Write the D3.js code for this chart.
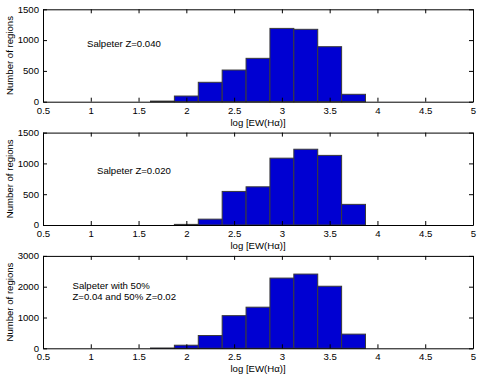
<!DOCTYPE html>
<html><head><meta charset="utf-8">
<script src="https://cdn.jsdelivr.net/npm/d3@7"></script>
<style>
html,body{margin:0;padding:0;background:#fff;}
svg{display:block;}
text{font-family:"Liberation Sans",Arial,Helvetica,sans-serif;}
</style></head>
<body><svg id="chart" width="480" height="377"></svg>
<script>
// ---- data ----
const binCenters = [1.75, 2.0, 2.25, 2.5, 2.75, 3.0, 3.25, 3.5, 3.75];
const binWidth = 0.25;
const countsZ040 = [10, 92, 315, 514, 704, 1190, 1175, 893, 120];
const countsZ020 = [0, 10, 95, 545, 620, 1085, 1230, 1130, 335];
const countsMix  = [10, 100, 415, 1060, 1335, 2280, 2410, 2015, 460];
const xTicks = [0.5, 1, 1.5, 2, 2.5, 3, 3.5, 4, 4.5, 5];
const yTicksA = [0, 500, 1000, 1500];
const yTicksB = [0, 1000, 2000, 3000];
const labelsA = ["Salpeter Z=0.040"];
const labelsB = ["Salpeter Z=0.020"];
const labelsC = ["Salpeter with 50%", "Z=0.04 and 50% Z=0.02"];
const xLabel = "log [EW(H\u03B1)]";
const yLabel = "Number of regions";

const panels = [
  {counts: countsZ040, yTicks: yTicksA, yMax: 1500, text: labelsA, bottom: 101.7, tx: 87, ty: 46.5},
  {counts: countsZ020, yTicks: yTicksA, yMax: 1500, text: labelsB, bottom: 225, tx: 97, ty: 173.5},
  {counts: countsMix,  yTicks: yTicksB, yMax: 3000, text: labelsC, bottom: 348.3, tx: 72.5, ty: 288.5}
];

const svg = d3.select("#chart");
const left = 43, right = 473, ph = 92.4;
const x = d3.scaleLinear().domain([0.5, 5]).range([left, right]);
const fs = "9.6px";

panels.forEach(p => {
  const top = p.bottom - ph;
  const y = d3.scaleLinear().domain([0, p.yMax]).range([p.bottom, top]);
  const g = svg.append("g");

  // bars
  g.selectAll("rect").data(p.counts.map((c, i) => ({c, x0: binCenters[i] - binWidth/2, x1: binCenters[i] + binWidth/2})))
    .enter().append("rect")
    .attr("x", d => x(d.x0))
    .attr("width", d => x(d.x1) - x(d.x0))
    .attr("y", d => y(d.c))
    .attr("height", d => y(0) - y(d.c))
    .attr("fill", "#0000d2")
    .attr("stroke", "#3a3a3a")
    .attr("stroke-width", 1);

  // axes (ticks inward)
  const xb = g.append("g").attr("transform", `translate(0,${p.bottom})`)
    .call(d3.axisBottom(x).tickValues(xTicks).tickFormat(d => String(d)).tickSizeInner(-4).tickSizeOuter(0).tickPadding(5));
  const xt = g.append("g").attr("transform", `translate(0,${top})`)
    .call(d3.axisTop(x).tickValues(xTicks).tickFormat("").tickSizeInner(-4).tickSizeOuter(0));
  const yl = g.append("g").attr("transform", `translate(${left},0)`)
    .call(d3.axisLeft(y).tickValues(p.yTicks).tickFormat(d => String(d)).tickSizeInner(-4).tickSizeOuter(0).tickPadding(4));
  const yr = g.append("g").attr("transform", `translate(${right},0)`)
    .call(d3.axisRight(y).tickValues(p.yTicks).tickFormat("").tickSizeInner(-4).tickSizeOuter(0));
  [xb, xt, yl, yr].forEach(a => {
    a.selectAll(".domain").attr("stroke", "#000").attr("stroke-width", 1);
    a.selectAll(".tick line").attr("stroke", "#000");
    a.selectAll("text").attr("font-size", fs).attr("fill", "#000")
      .attr("font-family", "'Liberation Sans',Arial,Helvetica,sans-serif");
  });
  yl.selectAll(".tick text").attr("dy", "0.3em");

  // x label
  g.append("text").attr("x", (left + right) / 2).attr("y", p.bottom + 24)
    .attr("text-anchor", "middle").attr("font-size", fs).text(xLabel);
  // y label
  g.append("text").attr("transform", `translate(${12.5},${(top + p.bottom) / 2}) rotate(-90)`)
    .attr("text-anchor", "middle").attr("font-size", fs).text(yLabel);
  // annotation
  p.text.forEach((t, i) => {
    g.append("text").attr("x", p.tx).attr("y", p.ty + i * 11.5).attr("font-size", fs).text(t);
  });
});
</script>
</body></html>
